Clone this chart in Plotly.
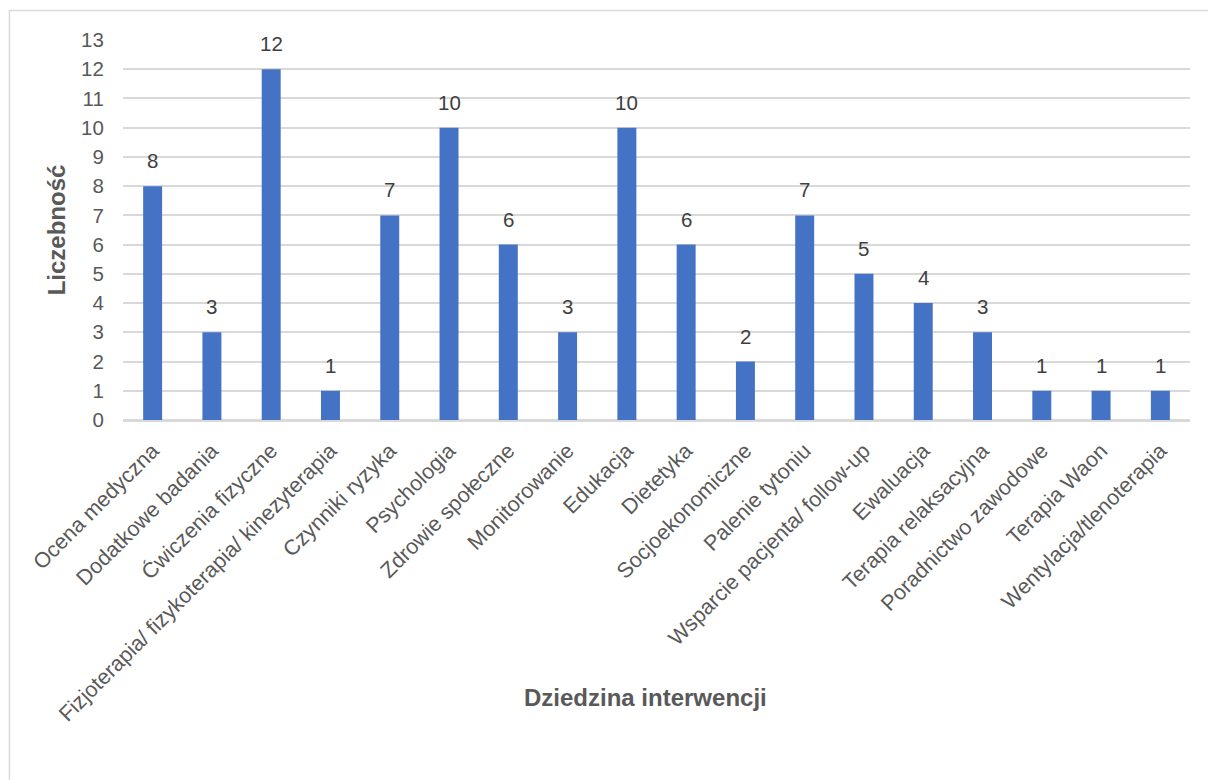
import plotly.graph_objects as go

categories = [
    "Ocena medyczna", "Dodatkowe badania", "Ćwiczenia fizyczne",
    "Fizjoterapia/ fizykoterapia/ kinezyterapia", "Czynniki ryzyka",
    "Psychologia", "Zdrowie społeczne", "Monitorowanie", "Edukacja",
    "Dietetyka", "Socjoekonomiczne", "Palenie tytoniu",
    "Wsparcie pacjenta/ follow-up", "Ewaluacja", "Terapia relaksacyjna",
    "Poradnictwo zawodowe", "Terapia Waon", "Wentylacja/tlenoterapia",
]
counts = [8, 3, 12, 1, 7, 10, 6, 3, 10, 6, 2, 7, 5, 4, 3, 1, 1, 1]
y_ticks = list(range(0, 14))

TEXT = "#595959"
GRID = "#d9d9d9"
FONT = "Liberation Sans, Arial, sans-serif"

fig = go.Figure(
    go.Bar(
        x=categories,
        y=counts,
        marker=dict(color="#4472C4", line=dict(width=0)),
        hoverinfo="skip",
    )
)

# value labels above each bar
for cat, val in zip(categories, counts):
    fig.add_annotation(
        x=cat, y=val, text=str(val), showarrow=False,
        yanchor="bottom", yshift=12,
        font=dict(family=FONT, size=20.5, color="#404040"),
    )

# axis titles
fig.add_annotation(
    xref="paper", yref="paper", x=0.49, y=-0.729,
    text="<b>Dziedzina interwencji</b>", showarrow=False,
    xanchor="center", yanchor="middle",
    font=dict(family=FONT, size=24, color=TEXT),
)
fig.add_annotation(
    xref="paper", yref="paper", x=-0.0625, y=0.5,
    text="<b>Liczebność</b>", showarrow=False, textangle=-90,
    xanchor="center", yanchor="middle",
    font=dict(family=FONT, size=24, color=TEXT),
)

# chart border
fig.add_shape(
    type="rect", xref="paper", yref="paper",
    x0=-0.1064, y0=-1.5, x1=1.2, y1=1.0776,
    line=dict(color=GRID, width=1.5), fillcolor="rgba(0,0,0,0)",
    layer="below",
)

fig.update_layout(
    width=1208, height=780,
    margin=dict(l=123, r=18, t=40, b=360, autoexpand=False),
    paper_bgcolor="white", plot_bgcolor="white",
    bargap=0.68,
    showlegend=False,
    font=dict(family=FONT, color=TEXT),
    xaxis=dict(
        tickangle=-45, tickfont=dict(size=21.5, color=TEXT),
        showgrid=False, showline=True, linecolor=GRID, linewidth=1.5,
        ticks="outside", ticklen=8, tickcolor="rgba(0,0,0,0)",
        automargin=False,
    ),
    yaxis=dict(
        range=[0, 13], tickvals=y_ticks,
        tickfont=dict(size=20.5, color=TEXT),
        showgrid=True, gridcolor=GRID, gridwidth=1.5,
        zeroline=True, zerolinecolor=GRID, zerolinewidth=1.5,
        ticks="outside", ticklen=14, tickcolor="rgba(0,0,0,0)",
        automargin=False,
    ),
)

fig.write_html("out.html")
